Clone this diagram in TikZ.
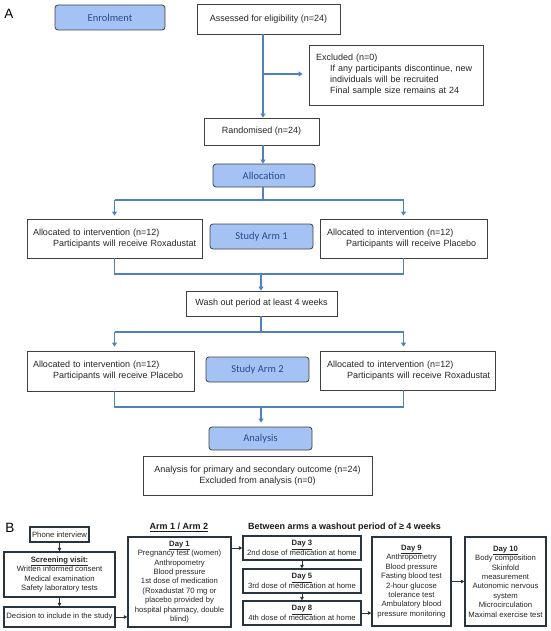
\documentclass[tikz,border=0pt]{standalone}
\usepackage{fontspec}
\setmainfont{Liberation Sans}
\newfontfamily\calfont{Carlito}
\usetikzlibrary{arrows.meta,calc}
\definecolor{conblue}{RGB}{79,129,189}
\definecolor{boxblue}{RGB}{164,194,244}
\definecolor{txtblue}{RGB}{40,75,140}
\definecolor{bline}{RGB}{40,52,64}
\tikzset{
  abox/.style={draw=black!75, line width=0.7pt, fill=white, inner sep=0pt,
    font=\fontsize{9}{11}\selectfont, text=black!85},
  bluebox/.style={draw=black!75, line width=0.8pt, rounded corners=3pt, fill=boxblue,
    text=txtblue, font=\calfont\fontsize{10.5}{12}\selectfont},
  conn/.style={draw=conblue, line width=1.6pt},
  carrow/.style={conn, -{Triangle[length=4pt,width=5pt]}},
  bbox/.style={draw=bline, line width=1.2pt, align=center, inner sep=0pt,
    font=\fontsize{7.7}{9.4}\selectfont, text=black!85},
  barrow/.style={draw=bline, line width=0.9pt, -{Triangle[length=3.5pt,width=3.5pt]}},
  btitle/.style={font=\bfseries\fontsize{9}{11}\selectfont, text=black!90},
  plabel/.style={font=\fontsize{13.5}{15}\selectfont}
}
\begin{document}
\begin{tikzpicture}[x=1pt,y=-1pt]
\useasboundingbox (0,0) rectangle (550,631);
% ---------- Part A ----------
\node[plabel] (labA) at (9,14) {A};
\node[bluebox, minimum width=110pt, minimum height=25pt] (enrol) at (110,17.5) {Enrolment};
\node[abox, minimum width=143pt, minimum height=30pt] (assess) at (268.5,19) {Assessed for eligibility (n=24)};
\node[abox, minimum width=174pt, minimum height=60pt, text width=160pt, align=left] (excl) at (396,75)
  {Excluded (n=0)\\
   \hspace*{14pt}\mbox{If any participants discontinue, new}\\
   \hspace*{14pt}\mbox{individuals will be recruited}\\
   \hspace*{14pt}\mbox{Final sample size remains at 24}};
\node[abox, minimum width=115pt, minimum height=27pt] (rand) at (261.5,131.5) {Randomised (n=24)};
\node[bluebox, minimum width=102pt, minimum height=23pt] (alloc) at (264,175.5) {Allocation};
\node[abox, minimum width=175pt, minimum height=39pt, text width=163pt, align=left] (a1l) at (114.5,238.5)
  {\mbox{Allocated to intervention (n=12)}\\ \hspace*{20pt}\mbox{Participants will receive Roxadustat}};
\node[bluebox, minimum width=103pt, minimum height=25pt] (arm1) at (261.5,236.5) {Study Arm 1};
\node[abox, minimum width=167pt, minimum height=39pt, text width=153pt, align=left] (a1r) at (403.5,238.5)
  {\mbox{Allocated to intervention (n=12)}\\ \hspace*{19pt}\mbox{Participants will receive Placebo}};
\node[abox, minimum width=151pt, minimum height=25pt] (wash) at (261.5,303.5) {Wash out period at least 4 weeks};
\node[abox, minimum width=167pt, minimum height=40pt, text width=155pt, align=left] (a2l) at (110.5,371)
  {\mbox{Allocated to intervention (n=12)}\\ \hspace*{20pt}\mbox{Participants will receive Placebo}};
\node[bluebox, minimum width=103pt, minimum height=25pt] (arm2) at (257.5,369.5) {Study Arm 2};
\node[abox, minimum width=175pt, minimum height=39pt, text width=161pt, align=left] (a2r) at (407.5,370.5)
  {\mbox{Allocated to intervention (n=12)}\\ \hspace*{20pt}\mbox{Participants will receive Roxadustat}};
\node[bluebox, minimum width=103pt, minimum height=23pt] (anal) at (260.5,438.5) {Analysis};
\node[abox, minimum width=229pt, minimum height=39pt, align=center] (analt) at (257.5,475.5)
  {Analysis for primary and secondary outcome (n=24)\\Excluded from analysis (n=0)};
% connectors A
\coordinate (br) at (263,74);
\draw[carrow] (assess.south -| br) -- (br |- rand.north);
\draw[carrow, shorten >=6pt] (br) -- (br -| excl.west);
\draw[carrow] (rand.south -| br) -- (br |- alloc.north);
\coordinate (s1) at (263,200);
\coordinate (m1) at (261,274);
\coordinate (s2) at (261,332);
\coordinate (m2) at (261,407);
\draw[conn] (s1 |- alloc.south) -- (s1);
\draw[conn] (a1l.north |- s1) -- (a1r.north |- s1);
\draw[carrow, shorten >=3pt] (a1l.north |- s1) -- (a1l.north);
\draw[carrow, shorten >=3pt] (a1r.north |- s1) -- (a1r.north);
\draw[conn] (a1l.south) -- (a1l.south |- m1) -- (a1r.south |- m1) -- (a1r.south);
\draw[carrow] (m1) -- (m1 |- wash.north);
\draw[conn] (wash.south -| s2) -- (s2);
\draw[conn] (a1l.north |- s2) -- (a1r.north |- s2);
\draw[carrow, shorten >=4pt] (a1l.north |- s2) -- (a1l.north |- a2l.north);
\draw[carrow, shorten >=4pt] (a1r.north |- s2) -- (a1r.north |- a2r.north);
\draw[conn] (a1l.south |- a2l.south) -- (a1l.south |- m2) -- (a1r.south |- m2) -- (a1r.south |- a2r.south);
\draw[carrow, shorten >=4pt] (m2) -- (m2 |- anal.north);
% ---------- Part B ----------
\node[plabel] (labB) at (10,528) {B};
\node[bbox, minimum width=59pt, minimum height=15pt] (phone) at (59.5,534.5) {Phone interview};
\node[bbox, minimum width=111pt, minimum height=45pt] (screen) at (59.5,574.5)
  {\underline{\textbf{Screening visit:}}\\Written informed consent\\Medical examination\\Safety laboratory tests};
\node[bbox, minimum width=111pt, minimum height=20pt] (decide) at (59.5,617) {Decision to include in the study};
\node[btitle] (armt) at (179,527) {\underline{Arm 1 / Arm 2}};
\node[bbox, minimum width=103pt, minimum height=90pt] (day1) at (179.5,582)
  {\underline{\textbf{Day 1}}\\Pregnancy test (women)\\Anthropometry\\Blood pressure\\1st dose of medication\\(Roxadustat 70 mg or\\placebo provided by\\hospital pharmacy, double\\blind)};
\node[btitle] (washt) at (344.5,527) {Between arms a washout period of ≥ 4 weeks};
\node[bbox, minimum width=118pt, minimum height=24pt] (day3) at (302,548)
  {\underline{\textbf{Day 3}}\\2nd dose of medication at home};
\node[bbox, minimum width=118pt, minimum height=24pt] (day5) at (302,581)
  {\underline{\textbf{Day 5}}\\3rd dose of medication at home};
\node[bbox, minimum width=118pt, minimum height=24pt] (day8) at (302,613)
  {\underline{\textbf{Day 8}}\\4th dose of medication at home};
\node[bbox, minimum width=79pt, minimum height=89pt] (day9) at (411.5,581.5)
  {\underline{\textbf{Day 9}}\\Anthropometry\\Blood pressure\\Fasting blood test\\2-hour glucose\\tolerance test\\Ambulatory blood\\pressure monitoring};
\node[bbox, minimum width=81pt, minimum height=89pt] (day10) at (505.5,581.5)
  {\underline{\textbf{Day 10}}\\Body composition\\Skinfold\\measurement\\Autonomic nervous\\system\\Microcirculation\\Maximal exercise test};
% connectors B
\draw[barrow] (phone.south) -- (screen.north);
\draw[barrow] (screen.south) -- (decide.north);
\draw[barrow] (decide.east) -- (decide.east -| day1.west);
\draw[barrow] (day1.east |- day3.west) -- (day3.west);
\draw[barrow] (day3.south) -- (day5.north);
\draw[barrow] (day5.south) -- (day8.north);
\draw[barrow] (day8.east) -- (day8.east -| day9.west);
\draw[barrow] (day9.east) -- (day9.east -| day10.west);
\end{tikzpicture}
\end{document}
